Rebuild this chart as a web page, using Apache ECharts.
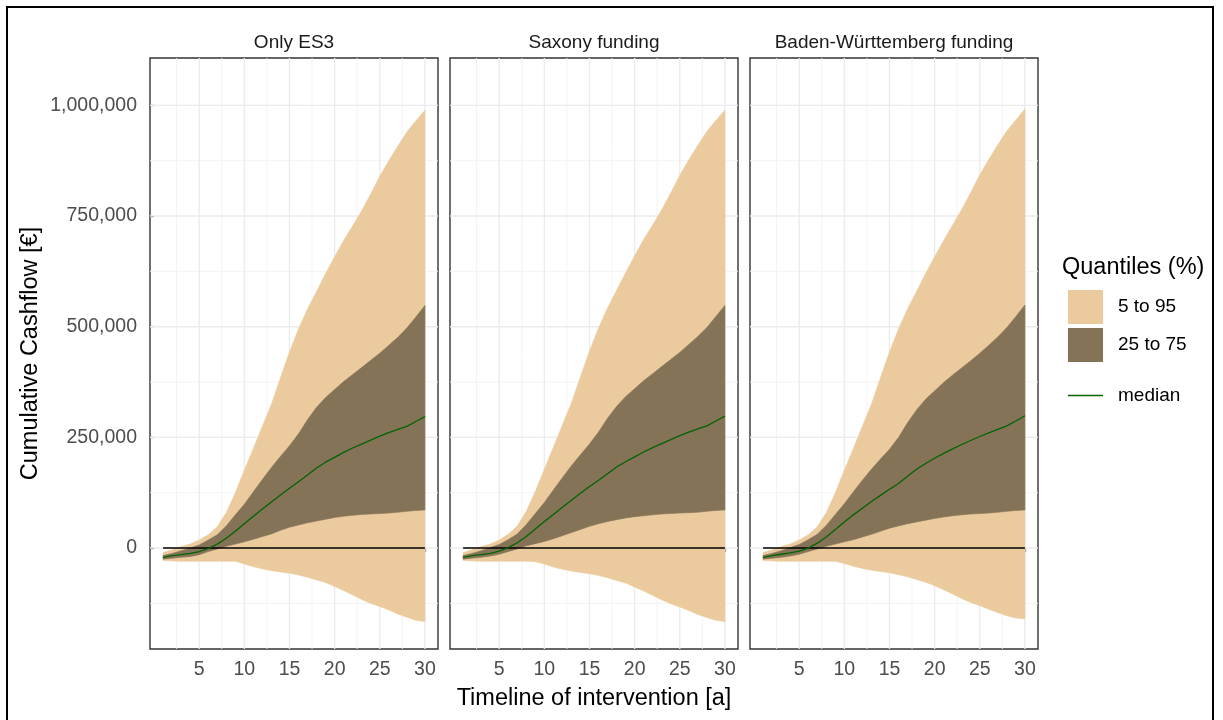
<!DOCTYPE html>
<html>
<head>
<meta charset="utf-8">
<script src="https://cdn.jsdelivr.net/npm/echarts@6/dist/echarts.min.js"></script>
<style>
  html, body { margin: 0; padding: 0; background: #ffffff; }
  #chart { width: 1223px; height: 720px; }
</style>
</head>
<body>
<div id="chart"></div>
<script>
// ---- data -------------------------------------------------------------
const years = [1, 2, 3, 4, 5, 6, 7, 8, 9, 10, 11, 12, 13, 14, 15, 16, 17, 18, 19, 20, 21, 22, 23, 24, 25, 26, 27, 28, 29, 30];

const panelTitles = ['Only ES3', 'Saxony funding', 'Baden-Württemberg funding'];

// Only ES3
const es3Q05 = [-28000, -29000, -30000, -30000, -30000, -30000, -30000, -30000, -30000, -36000, -42000, -47000, -51000, -54000, -57000, -61000, -66000, -72000, -78000, -87000, -96000, -106000, -116000, -125000, -132000, -140000, -149000, -156000, -163000, -166000];
const es3Q25 = [-25000, -23000, -21000, -19000, -15000, -8000, -2000, 4000, 9000, 14000, 20000, 26000, 32000, 40000, 47000, 52000, 57000, 61000, 65000, 69000, 72000, 74000, 76000, 77000, 78000, 79000, 81000, 83000, 85000, 86000];
const es3Med = [-21000, -17000, -15000, -12000, -8000, -1000, 9000, 22000, 38000, 55000, 72000, 88000, 104000, 120000, 135000, 150000, 165000, 181000, 194000, 205000, 216000, 226000, 235000, 244000, 253000, 261000, 268000, 275000, 286000, 297000];
const es3Q75 = [-17000, -12000, -6000, 0, 7000, 18000, 30000, 50000, 75000, 99000, 127000, 155000, 182000, 207000, 231000, 258000, 290000, 318000, 340000, 358000, 376000, 392000, 408000, 424000, 440000, 458000, 476000, 497000, 522000, 548000];
const es3Q95 = [-10000, -4000, 3000, 9000, 18000, 30000, 48000, 80000, 125000, 176000, 225000, 275000, 325000, 385000, 443000, 495000, 540000, 580000, 620000, 658000, 695000, 728000, 762000, 800000, 840000, 875000, 908000, 940000, 965000, 989000];

// Saxony funding
const saxQ05 = [-28000, -29000, -30000, -30000, -30000, -30000, -30000, -30000, -31000, -36000, -43000, -48000, -52000, -55000, -58000, -62000, -67000, -73000, -79000, -88000, -97000, -107000, -117000, -126000, -133000, -141000, -150000, -157000, -163000, -166000];
const saxQ25 = [-25000, -23000, -21000, -18000, -14000, -8000, -2000, 5000, 10000, 15000, 21000, 28000, 35000, 42000, 49000, 55000, 60000, 64000, 68000, 71000, 73000, 75000, 77000, 78000, 79000, 80000, 81000, 83000, 85000, 86000];
const saxMed = [-21000, -17000, -15000, -12000, -7000, 1000, 12000, 26000, 43000, 60000, 76000, 92000, 108000, 124000, 139000, 153000, 168000, 183000, 195000, 206000, 217000, 227000, 236000, 245000, 254000, 262000, 269000, 276000, 287000, 298000];
const saxQ75 = [-17000, -12000, -6000, 1000, 8000, 19000, 32000, 53000, 78000, 103000, 131000, 159000, 186000, 211000, 235000, 262000, 293000, 320000, 342000, 360000, 378000, 394000, 410000, 426000, 442000, 460000, 478000, 498000, 523000, 548000];
const saxQ95 = [-10000, -4000, 3000, 9000, 18000, 31000, 50000, 83000, 128000, 178000, 228000, 278000, 328000, 387000, 445000, 497000, 542000, 582000, 622000, 660000, 697000, 730000, 764000, 802000, 842000, 877000, 910000, 941000, 966000, 989000];

// Baden-Württemberg funding
const bwQ05 = [-28000, -29000, -30000, -30000, -30000, -30000, -30000, -30000, -30000, -35000, -41000, -46000, -50000, -53000, -56000, -60000, -65000, -71000, -77000, -85000, -94000, -104000, -114000, -123000, -130000, -138000, -146000, -153000, -158000, -160000];
const bwQ25 = [-25000, -23000, -21000, -18000, -14000, -8000, -2000, 4000, 9000, 14000, 19000, 25000, 31000, 38000, 45000, 50000, 55000, 59000, 63000, 67000, 70000, 73000, 75000, 77000, 78000, 79000, 81000, 83000, 85000, 86000];
const bwMed = [-21000, -17000, -14000, -11000, -7000, 0, 11000, 25000, 42000, 59000, 75000, 90000, 105000, 119000, 133000, 146000, 162000, 178000, 191000, 203000, 214000, 224000, 234000, 243000, 252000, 260000, 268000, 276000, 287000, 299000];
const bwQ75 = [-17000, -12000, -6000, 1000, 8000, 19000, 31000, 51000, 76000, 100000, 127000, 153000, 178000, 201000, 223000, 250000, 283000, 312000, 336000, 355000, 374000, 391000, 407000, 423000, 440000, 458000, 477000, 498000, 523000, 549000];
const bwQ95 = [-10000, -4000, 3000, 9000, 18000, 30000, 48000, 80000, 125000, 176000, 225000, 275000, 325000, 385000, 443000, 495000, 540000, 580000, 620000, 658000, 695000, 730000, 765000, 803000, 843000, 878000, 911000, 942000, 967000, 992000];

const zeroLine = [0, 0];          // reference line at 0 from the first to the last year
const xTickValues = [5, 10, 15, 20, 25, 30];
const xMinorValues = [2.5, 7.5, 12.5, 17.5, 22.5, 27.5];
const yTickValues = [0, 250000, 500000, 750000, 1000000];
const yMinorValues = [-125000, 125000, 375000, 625000, 875000];
const legendTitle = 'Quantiles (%)';
const legendLabels = ['5 to 95', '25 to 75', 'median'];
const xTitle = 'Timeline of intervention [a]';
const yTitle = 'Cumulative Cashflow [€]';

// ---- layout & style ---------------------------------------------------
const FONT = '"Liberation Sans", Arial, Helvetica, sans-serif';
const TAN = '#EBCB9D';
const BROWN = '#857358';
const GREEN = '#006400';
const GRID_LEFT = [150, 450, 750];
const GRID_TOP = 58;
const GRID_W = 288;
const GRID_H = 591;
const X_MIN = -0.45, X_MAX = 31.45;
const Y_MIN = -228000, Y_MAX = 1107000;

const panels = [
  { q05: es3Q05, q25: es3Q25, med: es3Med, q75: es3Q75, q95: es3Q95 },
  { q05: saxQ05, q25: saxQ25, med: saxMed, q75: saxQ75, q95: saxQ95 },
  { q05: bwQ05, q25: bwQ25, med: bwMed, q75: bwQ75, q95: bwQ95 }
];

function thousands(v) {
  return String(Math.round(v)).replace(/\B(?=(\d{3})+(?!\d))/g, ',');
}

// grid-line records: [value, kind]  kind 0 = x major, 1 = x minor, 2 = y major, 3 = y minor
const gridLineData = []
  .concat(xMinorValues.map(v => [v, 1]))
  .concat(yMinorValues.map(v => [v, 3]))
  .concat(xTickValues.map(v => [v, 0]))
  .concat(yTickValues.map(v => [v, 2]));

function renderGridLine(params, api) {
  const v = api.value(0);
  const kind = api.value(1);
  const cs = params.coordSys;
  const major = (kind === 0 || kind === 2);
  const style = { stroke: major ? '#EBEBEB' : '#F2F2F2', lineWidth: major ? 1.4 : 0.9 };
  if (kind < 2) {
    const x = api.coord([v, 0])[0];
    return { type: 'line', shape: { x1: x, y1: cs.y, x2: x, y2: cs.y + cs.height }, style: style };
  }
  const y = api.coord([0, v])[1];
  return { type: 'line', shape: { x1: cs.x, y1: y, x2: cs.x + cs.width, y2: y }, style: style };
}

// ribbon: rows are [x, lower, upper]; the first row draws the whole closed polygon
function makeRibbonRenderer(color) {
  return function (params, api) {
    if (params.dataIndexInside !== 0) return null;
    const n = params.dataInsideLength;
    const upper = [], lower = [];
    for (let j = 0; j < n; j++) {
      const x = api.value(0, j);
      upper.push(api.coord([x, api.value(2, j)]));
      lower.push(api.coord([x, api.value(1, j)]));
    }
    return {
      type: 'polygon',
      shape: { points: upper.concat(lower.reverse()) },
      style: { fill: color, stroke: color, lineWidth: 0.6 }
    };
  };
}

const grids = [], xAxes = [], yAxes = [], series = [], graphics = [];

panels.forEach((p, i) => {
  grids.push({
    left: GRID_LEFT[i], top: GRID_TOP, width: GRID_W, height: GRID_H,
    show: true, borderColor: '#333333', borderWidth: 1.4, backgroundColor: 'transparent'
  });

  xAxes.push({
    gridIndex: i, type: 'value', min: X_MIN, max: X_MAX,
    splitLine: { show: false },
    axisLine: { show: false },
    axisTick: { show: true, length: 4, customValues: xTickValues, lineStyle: { color: '#333333', width: 1.2 } },
    axisLabel: { customValues: xTickValues, color: '#4D4D4D', fontSize: 19.5, fontFamily: FONT, margin: 11 },
    name: i === 1 ? xTitle : '',
    nameLocation: 'middle', nameGap: 38,
    nameTextStyle: { fontSize: 23.5, color: '#000000', fontFamily: FONT }
  });

  yAxes.push({
    gridIndex: i, type: 'value', min: Y_MIN, max: Y_MAX,
    splitLine: { show: false },
    axisLine: { show: false },
    axisTick: { show: i === 0, length: 4, customValues: yTickValues, lineStyle: { color: '#333333', width: 1.2 } },
    axisLabel: {
      show: i === 0, customValues: yTickValues, color: '#4D4D4D', fontSize: 19.5, fontFamily: FONT, margin: 13,
      formatter: thousands
    },
    name: i === 0 ? yTitle : '',
    nameLocation: 'middle', nameGap: 107, nameRotate: 90,
    nameTextStyle: { fontSize: 23.5, color: '#000000', fontFamily: FONT }
  });

  series.push({
    type: 'custom', name: 'grid' + i, xAxisIndex: i, yAxisIndex: i, silent: true, z: 1,
    renderItem: renderGridLine, data: gridLineData
  });

  // 5–95 % band
  series.push({
    type: 'custom', name: legendLabels[0], xAxisIndex: i, yAxisIndex: i, z: 2,
    color: TAN, itemStyle: { color: TAN },
    encode: { x: 0, y: [1, 2] },
    renderItem: makeRibbonRenderer(TAN),
    data: years.map((x, k) => [x, p.q05[k], p.q95[k]])
  });

  // 25–75 % band
  series.push({
    type: 'custom', name: legendLabels[1], xAxisIndex: i, yAxisIndex: i, z: 3,
    color: BROWN, itemStyle: { color: BROWN },
    encode: { x: 0, y: [1, 2] },
    renderItem: makeRibbonRenderer(BROWN),
    data: years.map((x, k) => [x, p.q25[k], p.q75[k]])
  });

  // zero reference line
  series.push({
    type: 'line', name: 'zero', xAxisIndex: i, yAxisIndex: i, symbol: 'none', silent: true, z: 4,
    lineStyle: { color: '#000000', width: 1.4 },
    data: [[years[0], zeroLine[0]], [years[years.length - 1], zeroLine[1]]]
  });

  // median
  series.push({
    type: 'line', name: legendLabels[2], xAxisIndex: i, yAxisIndex: i, symbol: 'none', z: 5,
    color: GREEN, itemStyle: { color: GREEN },
    lineStyle: { color: GREEN, width: 1.3 },
    data: years.map((x, k) => [x, p.med[k]])
  });

  // facet strip label
  graphics.push({
    type: 'text', x: GRID_LEFT[i] + GRID_W / 2, y: 43,
    style: { text: panelTitles[i], fill: '#1A1A1A', font: '19px ' + FONT, textAlign: 'center', textVerticalAlign: 'middle' }
  });
});

graphics.push({
  type: 'text', x: 1062, y: 268,
  style: { text: legendTitle, fill: '#000000', font: '23.5px ' + FONT, textAlign: 'left', textVerticalAlign: 'middle' }
});
graphics.push({
  type: 'rect', shape: { x: 7, y: 7, width: 1206, height: 760 },
  style: { fill: 'none', stroke: '#000000', lineWidth: 2 }, z: 100, silent: true
});

const option = {
  animation: false,
  backgroundColor: '#ffffff',
  textStyle: { fontFamily: FONT },
  grid: grids,
  xAxis: xAxes,
  yAxis: yAxes,
  legend: [
    {
      orient: 'vertical', left: 1063, top: 285,
      itemWidth: 35, itemHeight: 34, itemGap: 4,
      icon: 'rect', selectedMode: false,
      itemStyle: { borderWidth: 0 },
      textStyle: { fontSize: 19, color: '#000000', fontFamily: FONT, padding: [0, 0, 0, 10] },
      data: [
        { name: legendLabels[0], itemStyle: { color: TAN } },
        { name: legendLabels[1], itemStyle: { color: BROWN } }
      ]
    },
    {
      orient: 'vertical', left: 1063, top: 381,
      itemWidth: 35, itemHeight: 1.4, itemGap: 4,
      icon: 'rect', selectedMode: false,
      itemStyle: { borderWidth: 0 },
      textStyle: { fontSize: 19, color: '#000000', fontFamily: FONT, padding: [0, 0, 0, 10] },
      data: [{ name: legendLabels[2], itemStyle: { color: GREEN } }]
    }
  ],
  graphic: graphics,
  series: series
};

const chart = echarts.init(document.getElementById('chart'), null, { renderer: 'canvas' });
chart.setOption(option);
</script>
</body>
</html>
